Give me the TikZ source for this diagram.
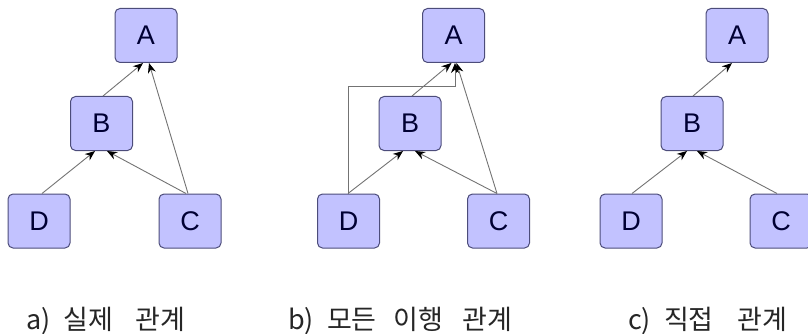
\documentclass[tikz,border=0pt]{standalone}
\usepackage{fontspec}
\setmainfont{Liberation Sans}
\newfontfamily\cjk{Noto Sans CJK KR}
\usetikzlibrary{arrows.meta}
\tikzset{
  box/.style={draw=black!55!blue!40!gray, line width=1pt, fill=blue!24!white, rounded corners=5pt,
    minimum width=62pt, minimum height=54pt, inner sep=0pt, font=\fontsize{27}{27}\selectfont, text=black!80!blue},
  arr/.style={draw=black!55, line width=0.9pt, -{Stealth[length=10pt,width=8pt,color=black]}},
  captxt/.style={font=\cjk\fontsize{27}{27}\selectfont, text=black!85, anchor=base west, inner sep=0pt}
}
\begin{document}
\begin{tikzpicture}[x=1pt,y=-1pt]
\useasboundingbox (0,0) rectangle (808,334);
% panel a
\node[box] (aA) at (146,35.5) {A};
\node[box] (aB) at (101.5,123.5) {B};
\node[box] (aD) at (39,221) {D};
\node[box] (aC) at (190,221) {C};
\draw[arr] ([xshift=1.5pt]aB.north) -- ([xshift=-3pt]aA.south);
\draw[arr] ([xshift=-2pt]aC.north) -- ([xshift=3pt]aA.south);
\draw[arr] ([xshift=3pt]aD.north) -- ([xshift=-6.5pt]aB.south);
\draw[arr] ([xshift=-4pt]aC.north) -- ([xshift=5.5pt]aB.south);
% panel b
\node[box] (bA) at (453.5,35.5) {A};
\node[box] (bB) at (410,123.5) {B};
\node[box] (bD) at (348.5,221) {D};
\node[box] (bC) at (498.5,221) {C};
\coordinate (bk1) at (348,86);
\coordinate (bk2) at (455,86);
\draw[arr] ([xshift=2pt]bB.north) -- ([xshift=-2pt]bA.south);
\draw[arr] ([xshift=-1.5pt]bC.north) -- ([xshift=3pt]bA.south);
\draw[arr] (bD.north -| bk1) -- (bk1) -- (bk2) -- (bk2 |- bA.south);
\draw[arr] (bD.north -| bk1) -- ([xshift=-7pt]bB.south);
\draw[arr] ([xshift=-1.5pt]bC.north) -- ([xshift=5pt]bB.south);
% panel c
\node[box] (cA) at (737,35.5) {A};
\node[box] (cB) at (692,123.5) {B};
\node[box] (cD) at (631,221) {D};
\node[box] (cC) at (781,221) {C};
\draw[arr] ([xshift=1pt]cB.north) -- ([xshift=-5pt]cA.south);
\draw[arr] ([xshift=1pt]cD.north) -- ([xshift=-5pt]cB.south);
\draw[arr] ([xshift=-4pt]cC.north) -- ([xshift=5pt]cB.south);
% captions
\node[captxt] (capa) at (26,329) {a)\hspace{13pt}실제\hspace{22pt}관계};
\node[captxt] (capb) at (288,329) {b)\hspace{13pt}모든\hspace{17pt}이행\hspace{19pt}관계};
\node[captxt] (capc) at (628,329) {c)\hspace{13pt}직접\hspace{24pt}관계};
\end{tikzpicture}
\end{document}
